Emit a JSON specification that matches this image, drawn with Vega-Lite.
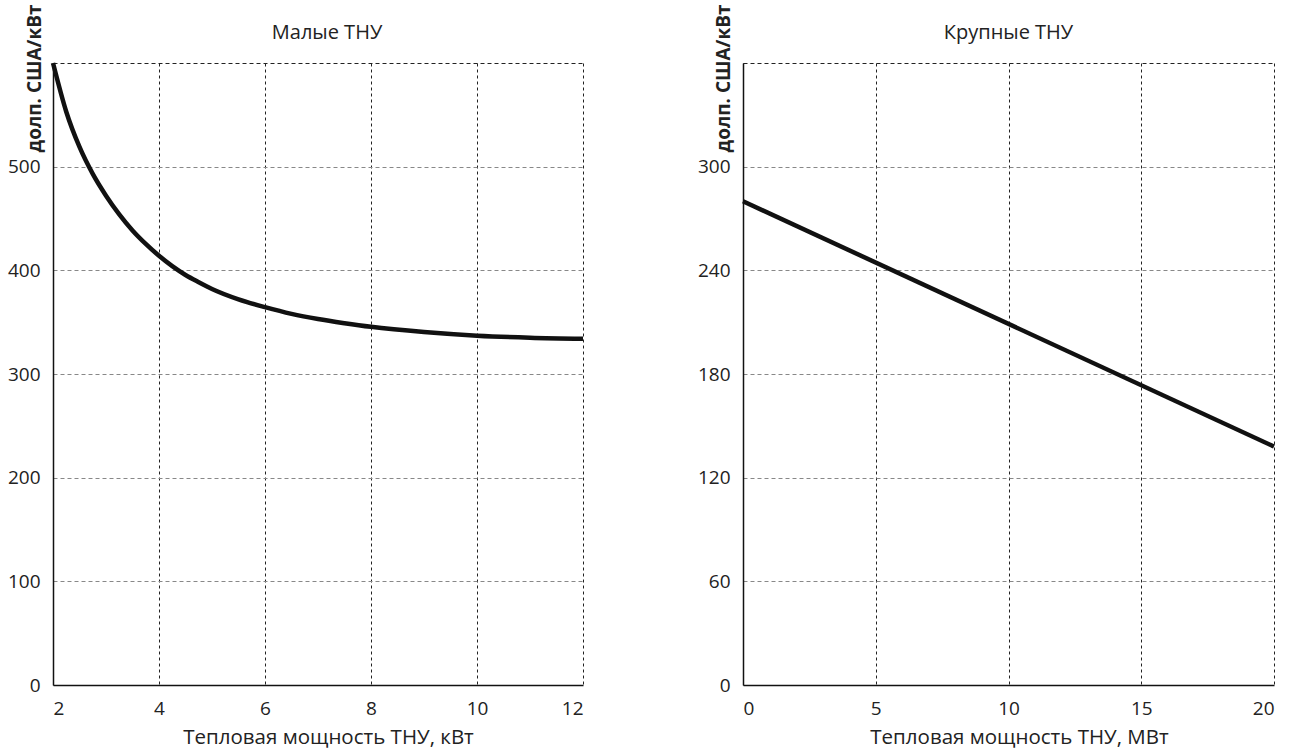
{
  "$schema": "https://vega.github.io/schema/vega-lite/v6.json",
  "padding": {"left": 7, "top": 4, "right": 5, "bottom": 5},
  "background": "white",
  "spacing": 160,
  "bounds": "flush",
  "config": {
    "font": "Open Sans",
    "view": {"stroke": null},
    "axis": {
      "ticks": false,
      "domainColor": "#111",
      "domainWidth": 1.5,
      "labelFontSize": 19,
      "labelColor": "#222",
      "titleFontSize": 20.5,
      "titleFontWeight": "normal",
      "titleColor": "#222",
      "grid": true
    },
    "axisX": {"gridColor": "#222", "gridDash": [3, 3], "gridWidth": 1, "labelPadding": 14, "titlePadding": 9},
    "axisY": {"gridDash": [4, 3], "gridWidth": 1, "labelPadding": 13},
    "title": {"fontSize": 20, "fontWeight": "normal", "color": "#222", "frame": "group", "baseline": "alphabetic", "offset": -39}
  },
  "hconcat": [
    {
      "width": 530,
      "height": 622,
      "title": {"text": "Малые ТНУ", "dx": 9},
      "data": {"values": [
        {"x": 2, "y": 600}, {"x": 2.25, "y": 553}, {"x": 2.5, "y": 519}, {"x": 2.75, "y": 493},
        {"x": 3, "y": 472}, {"x": 3.25, "y": 454}, {"x": 3.5, "y": 438.5}, {"x": 3.75, "y": 425.5},
        {"x": 4, "y": 414}, {"x": 4.25, "y": 404}, {"x": 4.5, "y": 395.5}, {"x": 4.75, "y": 388.5},
        {"x": 5, "y": 382}, {"x": 5.5, "y": 372}, {"x": 6, "y": 364.5}, {"x": 6.5, "y": 358},
        {"x": 7, "y": 353}, {"x": 7.5, "y": 349}, {"x": 8, "y": 345.5}, {"x": 9, "y": 340.5},
        {"x": 10, "y": 337}, {"x": 11, "y": 335}, {"x": 12, "y": 334}
      ]},
      "mark": {"type": "line", "color": "#111", "strokeWidth": 4.5, "interpolate": "monotone"},
      "encoding": {
        "x": {
          "field": "x", "type": "quantitative",
          "scale": {"domain": [2, 12], "nice": false, "zero": false},
          "axis": {"values": [2, 4, 6, 8, 10, 12], "title": "Тепловая мощность ТНУ, кВт", "titleX": 275}
        },
        "y": {
          "field": "y", "type": "quantitative",
          "scale": {"domain": [0, 600], "nice": false},
          "axis": {
            "values": [0, 100, 200, 300, 400, 500, 600],
            "labelExpr": "datum.value == 600 ? '' : datum.label",
            "gridColor": {"condition": {"test": "datum.value == 600", "value": "#222"}, "value": "#888"},
            "title": "долп. США/кВт",
            "titleFontWeight": "bold",
            "titleFontSize": 19,
            "titleAngle": -90,
            "titleAlign": "center",
            "titleBaseline": "middle",
            "titleX": -19,
            "titleY": 15
          }
        }
      }
    },
    {
      "width": 531,
      "height": 622,
      "title": {"text": "Крупные ТНУ"},
      "data": {"values": [
        {"x": 0, "y": 280}, {"x": 20, "y": 138}
      ]},
      "mark": {"type": "line", "color": "#111", "strokeWidth": 4.5},
      "encoding": {
        "x": {
          "field": "x", "type": "quantitative",
          "scale": {"domain": [0, 20], "nice": false},
          "axis": {"values": [0, 5, 10, 15, 20], "title": "Тепловая мощность ТНУ, МВт", "titleX": 276}
        },
        "y": {
          "field": "y", "type": "quantitative",
          "scale": {"domain": [0, 360], "nice": false},
          "axis": {
            "values": [0, 60, 120, 180, 240, 300, 360],
            "labelExpr": "datum.value == 360 ? '' : datum.label",
            "gridColor": {"condition": {"test": "datum.value == 360", "value": "#222"}, "value": "#888"},
            "title": "долп. США/кВт",
            "titleFontWeight": "bold",
            "titleFontSize": 19,
            "titleAngle": -90,
            "titleAlign": "center",
            "titleBaseline": "middle",
            "titleX": -20,
            "titleY": 15
          }
        }
      }
    }
  ]
}
